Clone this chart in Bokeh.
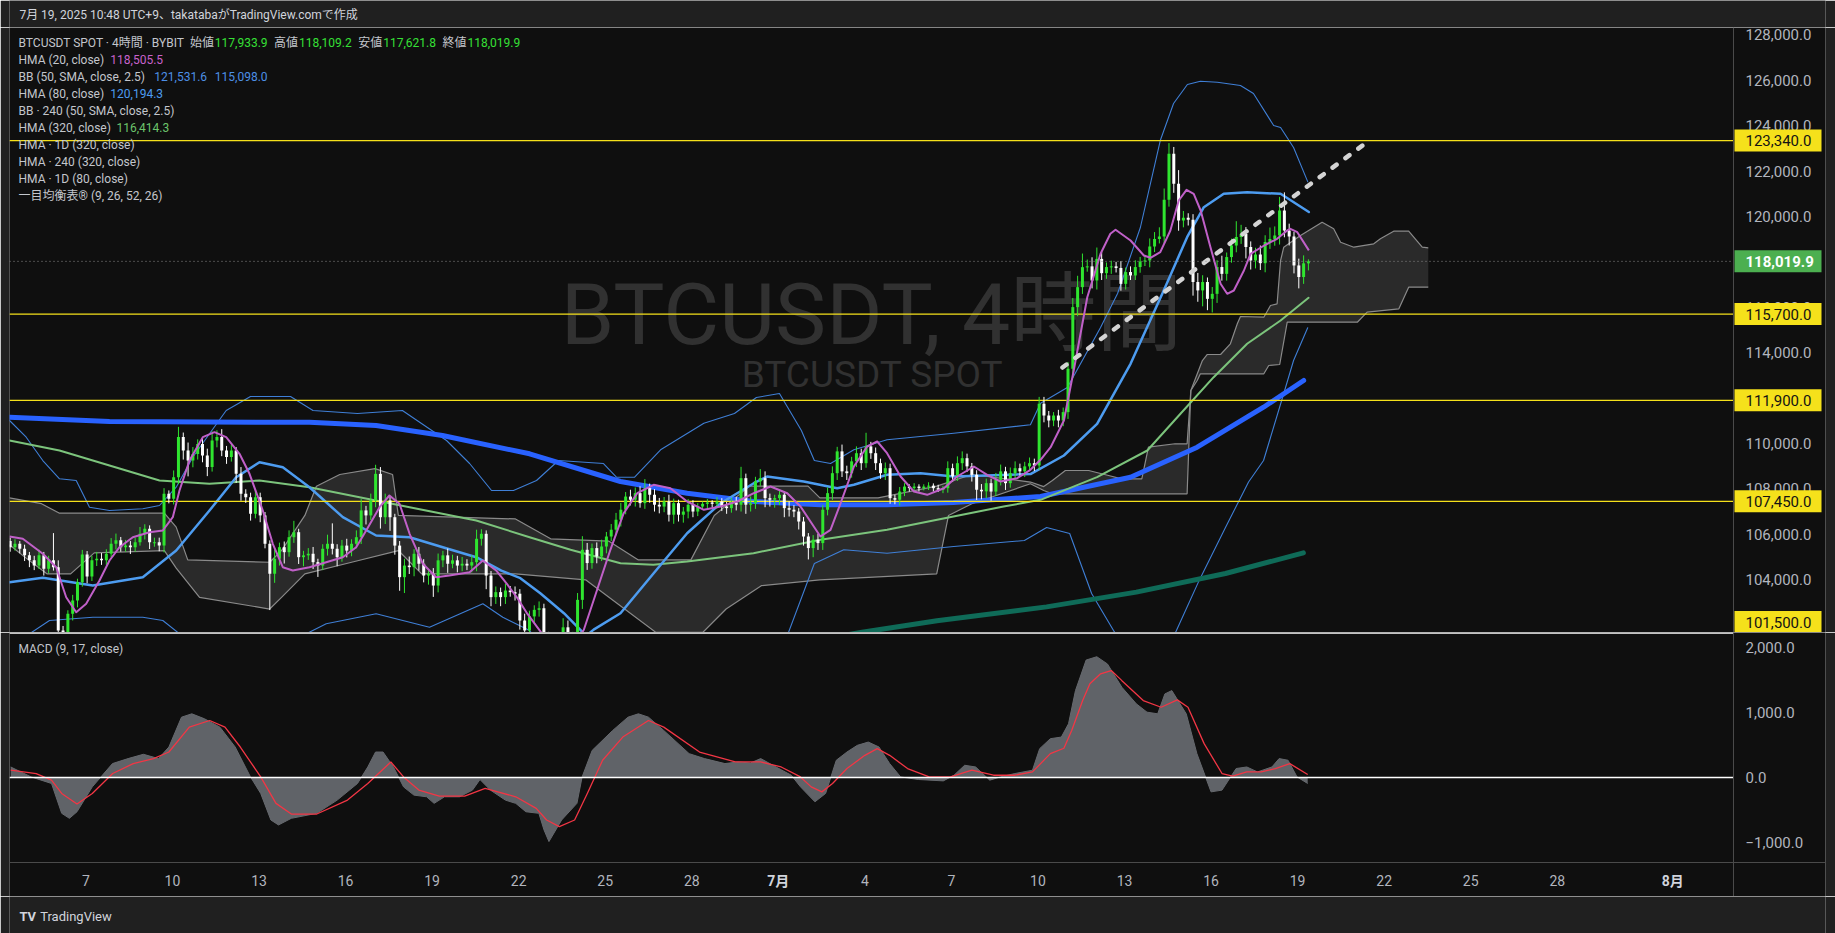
import numpy as np
import pandas as pd
from bokeh.plotting import figure
from bokeh.layouts import column
from bokeh.models import ColumnDataSource, Range1d
from bokeh.core.properties import value
from bokeh.embed import file_html
from bokeh.resources import INLINE

# ======================= DATA =======================
# x values: days since 2025-06-07 00:00 (UTC+9); candles are 4-hour bars
first_bar_day = -2.625            # first bar 2025-06-04 09:00
bar_step_day = 4 / 24
first_open = 105700.0

close = [
    105430, 105580, 105360, 105070, 104850, 104620, 105070, 104480, 104850, 104550,
    101760, 101690, 102500, 103080, 103890, 105110, 104140, 104850, 104920, 104850,
    105140, 105580, 105730, 105430, 105500, 105430, 105650, 106020, 106240, 105650,
    105650, 105500, 107780, 107560, 108510, 110280, 109690, 109250, 109540, 109980,
    109470, 108960, 110130, 110280, 109690, 109400, 109690, 108660, 107780, 107630,
    106900, 107630, 106830, 105580, 104260, 104920, 105430, 105210, 105870, 106090,
    104990, 105070, 105140, 104770, 104620, 105360, 105580, 105360, 104990, 105500,
    105280, 105580, 105870, 107050, 106830, 107490, 108660, 106750, 107490, 106750,
    105500, 104110, 104620, 104550, 105140, 104700, 104180, 104260, 103740, 104850,
    105070, 104700, 104850, 104620, 104700, 104620, 104770, 105800, 106020, 104180,
    103230, 103450, 103230, 103520, 103450, 103380, 102200, 101760, 102380, 102670,
    102740, 101400, 100500, 99200, 100300, 101900, 101100, 101500, 103110, 105315,
    104730, 105390, 105020, 105460, 105900, 106200, 106640, 107080, 107660, 107520,
    107810, 107370, 108030, 107740, 107300, 107220, 107440, 106860, 107370, 106860,
    107000, 107300, 107000, 107220, 107340, 107400, 107340, 107440, 107220, 107150,
    107400, 107300, 108470, 107300, 107370, 108330, 108470, 107590, 107520, 107590,
    107740, 107150, 107080, 107000, 106560, 105900, 105390, 105760, 105610, 107080,
    107810, 108690, 109650, 108770, 108690, 109210, 109570, 109130, 109870, 109570,
    109130, 108690, 108910, 107590, 107520, 107880, 108100, 108030, 108100, 108030,
    108100, 108140, 108030, 107960, 108030, 108910, 108550, 109130, 109350, 108990,
    108620, 107960, 107890, 108250, 107880, 108400, 108770, 108250, 108690, 108910,
    108770, 108990, 109130, 109030, 111750, 111230, 111010, 111230, 111010, 111380,
    113290, 116005, 116885, 117765, 117800, 117180, 118130, 117500, 117770, 117800,
    117730, 117030, 117550, 117400, 117770, 118015, 118060, 118680, 119010, 119120,
    120730, 122760, 121440, 119820, 119940, 119850, 117110, 116740, 117110, 116370,
    116590, 117770, 117470, 118210, 118720, 119090, 119230, 118650, 118060, 118320,
    117940, 118870, 119010, 119160, 120260, 119380, 119120, 117840, 117330, 117933.9,
    118019.9,
]
wick_up = [
    150, 200, 120, 180, 150, 200, 250, 150, 200, 1200,
    300, 200, 150, 250, 150, 200, 150, 200, 300, 250,
    200, 250, 300, 150, 250, 200, 200, 300, 200, 150,
    200, 200, 250, 150, 300, 450, 200, 350, 300, 200,
    250, 300, 400, 300, 350, 200, 250, 150, 300, 200,
    200, 300, 200, 150, 150, 400, 200, 250, 300, 500,
    150, 200, 250, 300, 150, 200, 400, 900, 200, 250,
    300, 200, 300, 500, 200, 300, 400, 300, 300, 200,
    150, 200, 300, 400, 200, 300, 200, 150, 250, 300,
    200, 300, 250, 200, 300, 200, 300, 400, 200, 150,
    200, 250, 200, 300, 200, 250, 200, 300, 250, 200,
    300, 200, 300, 200, 300, 400, 300, 200, 300, 600,
    300, 200, 250, 300, 200, 250, 300, 300, 200, 300,
    250, 300, 400, 200, 250, 300, 200, 300, 200, 150,
    200, 250, 200, 150, 100, 150, 100, 200, 150, 200,
    200, 250, 500, 200, 300, 200, 400, 300, 200, 150,
    200, 150, 300, 200, 150, 200, 150, 200, 250, 200,
    250, 300, 200, 300, 250, 200, 300, 200, 600, 200,
    250, 200, 250, 200, 150, 200, 150, 100, 150, 100,
    100, 150, 100, 150, 100, 300, 200, 300, 300, 200,
    150, 200, 250, 200, 200, 300, 300, 200, 250, 300,
    200, 200, 250, 200, 300, 300, 200, 150, 250, 200,
    300, 400, 500, 600, 300, 400, 500, 300, 200, 250,
    200, 300, 200, 250, 300, 200, 250, 350, 300, 400,
    500, 470, 300, 600, 300, 200, 250, 400, 300, 200,
    300, 300, 500, 200, 300, 700, 400, 300, 250, 300,
    400, 300, 500, 400, 600, 800, 300, 200, 300, 350,
    89.3,
]
wick_dn = [
    200, 150, 200, 250, 300, 200, 150, 300, 200, 150,
    600, 400, 500, 300, 300, 200, 300, 200, 250, 200,
    200, 150, 250, 200, 200, 300, 200, 150, 250, 300,
    200, 250, 300, 200, 250, 300, 400, 700, 300, 250,
    300, 400, 200, 300, 250, 300, 200, 400, 300, 250,
    300, 200, 300, 200, 1600, 400, 300, 500, 200, 250,
    300, 400, 200, 300, 500, 200, 300, 250, 400, 200,
    300, 250, 200, 300, 400, 200, 300, 500, 300, 600,
    400, 600, 700, 300, 400, 300, 300, 400, 500, 300,
    300, 400, 200, 300, 250, 200, 300, 400, 300, 600,
    400, 300, 400, 300, 200, 300, 400, 500, 300, 300,
    300, 800, 700, 600, 500, 400, 500, 400, 300, 400,
    300, 250, 300, 200, 300, 200, 250, 300, 200, 250,
    300, 200, 250, 350, 300, 300, 250, 300, 400, 300,
    350, 300, 250, 200, 150, 200, 150, 200, 200, 250,
    200, 250, 300, 400, 300, 250, 200, 400, 300, 350,
    300, 400, 300, 250, 350, 400, 500, 400, 300, 300,
    250, 300, 300, 250, 300, 200, 250, 300, 200, 250,
    300, 250, 300, 250, 200, 250, 200, 150, 100, 150,
    100, 150, 150, 100, 150, 200, 250, 200, 300, 250,
    300, 450, 350, 300, 400, 200, 250, 300, 200, 250,
    200, 250, 200, 250, 200, 300, 300, 250, 300, 250,
    300, 400, 400, 300, 200, 350, 400, 300, 250, 300,
    200, 300, 250, 200, 200, 250, 200, 300, 250, 200,
    300, 300, 400, 450, 300, 250, 600, 500, 700, 500,
    600, 400, 300, 300, 250, 300, 300, 500, 400, 350,
    300, 400, 300, 300, 400, 300, 400, 350, 500, 300,
    312.1,
]
last_open, last_high, last_low, last_close = 117933.9, 118109.2, 117621.8, 118019.9

# indicator lines: (day, value)
hma20 = [(-2.648, 105901), (-2.187, 105799), (-1.494, 105139), (-1.029, 104548), (-0.683, 103227),
         (-0.336, 102566), (0.010, 102936), (0.471, 103962), (0.818, 104843), (1.165, 105429),
         (1.626, 105870), (2.205, 106090), (2.666, 106165), (3.012, 106751), (3.244, 107927),
         (3.591, 109248), (4.052, 110275), (4.457, 110495), (4.863, 110275), (5.324, 109543),
         (5.671, 108663), (6.132, 107046), (6.478, 105579), (6.825, 104548), (7.172, 104403),
         (7.75, 104548), (8.329, 104769), (8.905, 104989), (9.369, 105429), (9.716, 106165),
         (10.18, 107191), (10.52, 107707), (10.87, 107341), (11.22, 106020), (11.68, 104698),
         (12.14, 104108), (12.6, 104183), (13.3, 104328), (13.76, 104843), (14.22, 104403),
         (14.6, 103800), (14.95, 103200), (15.3, 102500), (15.65, 101900), (16.0, 101300),
         (16.6, 100600), (17.26, 101791), (17.72, 103553), (18.18, 105315), (18.64, 106927),
         (19.11, 107808), (19.68, 108178), (20.26, 108028), (20.84, 107442), (21.42, 107077),
         (22.0, 107222), (22.58, 107442), (23.15, 107808), (23.73, 108103), (24.31, 107808),
         (24.77, 107222), (25.23, 106341), (25.46, 105901), (25.81, 106196), (26.16, 107367),
         (26.62, 108984), (27.08, 109865), (27.43, 110085), (27.77, 109570), (28.24, 108544),
         (28.7, 107883), (29.16, 107737), (29.74, 108028), (30.2, 108544), (30.78, 108984),
         (31.24, 108619), (31.7, 108323), (32.28, 108469), (32.74, 108839), (33.09, 109279),
         (33.44, 109834), (33.9, 111010), (34.24, 113213), (34.71, 116442), (35.17, 118354),
         (35.51, 119235), (35.69, 119411), (36.21, 118939), (36.67, 118279), (36.9, 118177),
         (37.24, 118424), (37.59, 119380), (37.88, 120701), (38.15, 121173), (38.4, 120997),
         (38.64, 120261), (38.98, 118644), (39.33, 117032), (39.56, 116591), (39.79, 116737),
         (40.14, 117618), (40.37, 118354), (40.84, 118719), (41.29, 119014), (41.64, 119380),
         (41.75, 119455), (41.99, 119305), (42.39, 118505.5)]
hma80 = [(-2.648, 103888), (-1.494, 104081), (0.239, 103742), (1.972, 104108), (3.13, 105284),
         (4.284, 107046), (5.21, 108513), (6.017, 109174), (6.825, 108953), (7.75, 108072),
         (8.905, 106751), (10.06, 105945), (11.22, 105870), (12.37, 105429), (13.53, 104989),
         (14.4, 104400), (15.06, 104064), (15.75, 103403), (16.57, 102522), (17.14, 101791),
         (17.32, 101500), (17.6, 101800), (18.53, 102522), (19.68, 104284), (20.84, 106046),
         (22.0, 107367), (23.15, 108248), (23.61, 108544), (24.88, 108323), (26.04, 108028),
         (26.62, 108178), (27.77, 108619), (28.93, 108689), (30.08, 108544), (32.74, 108650),
         (33.9, 109469), (35.05, 110865), (36.21, 113508), (37.36, 116737), (38.17, 119085),
         (38.75, 120406), (39.44, 120997), (40.25, 121067), (41.41, 120997), (42.39, 120194.3)]
hma320 = [(-2.648, 110129), (-0.915, 109689), (0.818, 109028), (2.551, 108367), (4.284, 108222),
          (6.017, 108367), (7.75, 108072), (9.484, 107632), (11.22, 107191), (13.53, 106605),
          (15.38, 105870), (16.8, 105315), (18.53, 104724), (19.67, 104654), (20.84, 104799),
          (23.14, 105165), (25.46, 105755), (27.77, 106196), (30.07, 106782), (31.81, 107222),
          (33.09, 107517), (35.05, 108513), (36.79, 109689), (37.94, 111306), (39.09, 112918),
          (40.25, 114389), (41.41, 115415), (42.38, 116414.3)]
hma1d_80 = [(-2.648, 111156), (0.818, 110970), (4.284, 110940), (7.75, 110936), (10.06, 110790),
            (12.36, 110350), (15.38, 109543), (18.53, 108323), (20.84, 107808), (23.14, 107442),
            (25.46, 107297), (27.77, 107297), (30.07, 107398), (33.09, 107663), (36.21, 108513),
            (38.52, 109834), (40.82, 111596), (42.21, 112772)]
hma1d_320 = [(24.5, 101150), (26.85, 101672), (29.5, 102190), (33.3, 102800), (36.41, 103450),
             (39.5, 104271), (42.2, 105178)]
bb_upper = [(-2.648, 111010), (-2.069, 110275), (-1.494, 109248), (-0.915, 108442), (-0.336, 108367),
            (0.125, 107191), (0.818, 107046), (1.972, 107121), (2.551, 107266), (3.13, 108072),
            (3.705, 109394), (4.284, 110425), (4.863, 111451), (5.705, 112068), (7.092, 112068),
            (7.872, 111451), (9.414, 111319), (10.97, 111451), (12.5, 110129), (13.3, 109116),
            (14.06, 107927), (14.82, 107927), (15.62, 108367), (16.38, 109248), (17.94, 109116),
            (18.39, 108513), (19.02, 108513), (19.92, 109720), (21.42, 110891), (22.48, 111319),
            (23.24, 112023), (24.04, 112200), (24.8, 110570), (25.25, 109248), (25.81, 109116),
            (26.62, 109720), (27.77, 110160), (30.08, 110451), (32.74, 110821), (33.09, 111772),
            (34.02, 112464), (35.17, 115107), (35.76, 116605), (36.55, 119512), (37.24, 123344),
            (37.7, 124974), (38.18, 125811), (38.63, 125957), (39.22, 125913), (40.02, 125767),
            (40.47, 125415), (41.17, 124005), (41.41, 123917), (41.86, 123036), (42.35, 121531.6)]
bb_lower = [(-2.648, 100900), (-1.955, 101615), (-1.262, 102200), (0.239, 102346), (1.972, 102346),
            (2.666, 102200), (3.244, 101615), (4.5, 100600), (6.5, 100700), (7.636, 101615),
            (8.33, 102055), (10.06, 102495), (11.91, 101905), (13.76, 102936), (14.45, 102346),
            (15.38, 101760), (16.5, 99800), (19.0, 98800), (22.0, 99300), (23.6, 100700),
            (24.34, 101629), (25.25, 104711), (26.27, 105315), (27.77, 105165), (30.08, 105460),
            (32.53, 105724), (33.3, 106297), (34.1, 106033), (34.86, 103390), (35.62, 101760),
            (36.5, 100000), (37.2, 100200), (37.8, 101760), (38.6, 104000), (39.5, 106300),
            (40.3, 108300), (40.82, 109248), (41.52, 112200), (41.86, 113653), (42.35, 115098.0)]
cloud_top = [(-2.65, 107602), (-1.54, 107345), (-0.93, 106932), (2.72, 106932), (3.13, 106313),
             (3.53, 104870), (6.37, 104767), (6.78, 105282), (7.59, 106829), (7.99, 108118),
             (8.8, 108633), (10.02, 108891), (10.63, 108633), (10.83, 106829), (14.89, 106674),
             (16.11, 105798), (18.13, 105695), (19.15, 104870), (20.97, 104870), (21.78, 106829),
             (23.0, 108118), (25.03, 108118), (25.44, 107602), (27.46, 107602), (29.49, 108118),
             (30.71, 108633), (32.74, 108300), (33.2, 108100), (33.5, 108368), (33.95, 108808),
             (34.76, 108808), (35.45, 108588), (35.9, 108442), (36.6, 108442), (36.83, 109834),
             (37.75, 109985), (38.17, 109985), (38.3, 112331), (38.7, 113653), (38.87, 113918),
             (39.33, 113918), (39.67, 114389), (39.91, 115270), (40.02, 115592), (40.83, 115561),
             (41.06, 116076), (41.29, 116151), (41.41, 118058), (41.52, 118644), (42.1, 119160),
             (42.85, 119745), (43.25, 119455), (43.49, 118864), (43.95, 118644), (44.64, 118794),
             (44.87, 119014), (45.33, 119349), (45.85, 119349), (46.32, 118644), (46.53, 118618)]
cloud_bot = [(-2.65, 105540), (-2.15, 105025), (-1.34, 104252), (-0.53, 104252), (0.29, 105180),
             (2.72, 105282), (3.13, 104509), (3.94, 103220), (6.37, 102705), (6.78, 103220),
             (7.59, 104252), (9.21, 104767), (10.83, 105282), (11.64, 104252), (14.89, 104252),
             (17.32, 103994), (18.13, 103220), (19.76, 101674), (21.38, 101674), (22.19, 102705),
             (23.41, 103736), (25.44, 103994), (29.49, 104252), (29.9, 106829), (30.71, 107345),
             (32.74, 108222), (33.2, 107928), (33.5, 107781), (38.17, 107781), (38.3, 112331),
             (38.52, 112772), (38.63, 113067), (40.83, 113067), (41.0, 113433), (41.38, 113477),
             (41.64, 115340), (44.07, 115340), (44.41, 115781), (45.51, 115931), (45.85, 116882),
             (46.53, 116882)]
macd = [(-2.607, 162), (-1.899, 9), (-1.192, -92), (-0.839, -551), (-0.572, -628), (-0.308, -527),
        (0.222, -144), (0.922, 214), (1.463, 291), (1.993, 357), (2.516, 291), (2.877, 469),
        (3.314, 928), (3.671, 980), (4.111, 903), (4.645, 775), (5.175, 469), (5.705, 9),
        (6.059, -245), (6.412, -654), (6.676, -730), (7.12, -628), (8.003, -551), (8.71, -348),
        (9.414, -92), (9.771, 162), (10.04, 392), (10.3, 392), (10.66, 162), (11.01, -144),
        (11.37, -271), (11.81, -297), (12.07, -398), (12.43, -297), (12.95, -297), (13.4, -194),
        (13.66, -31), (14.02, -194), (14.54, -348), (14.9, -398), (15.25, -527), (15.7, -551),
        (15.88, -807), (16.05, -986), (16.49, -654), (17.02, -398), (17.2, 9), (17.55, 418),
        (18.26, 724), (18.79, 928), (19.15, 980), (19.5, 928), (20.03, 724), (20.91, 367),
        (21.44, 291), (22.15, 214), (22.59, 239), (23.04, 224), (23.39, 291), (23.92, 162),
        (24.45, 35), (24.77, -144), (25.27, -374), (25.64, -245), (26.01, 265), (26.38, 392),
        (26.74, 495), (27.12, 545), (27.49, 469), (27.86, 214), (28.24, 9), (28.86, -31),
        (29.72, -52), (30.09, 35), (30.46, 188), (30.84, 162), (31.33, -41), (31.7, 9),
        (32.2, 61), (32.81, 112), (33.06, 444), (33.43, 597), (33.81, 622), (34.06, 827),
        (34.3, 1337), (34.67, 1807), (35.04, 1858), (35.41, 1746), (35.91, 1388), (36.41, 1133),
        (36.78, 1005), (37.15, 980), (37.4, 1286), (37.64, 1337), (38.14, 980), (38.51, 367),
        (39.0, -221), (39.38, -194), (39.87, 138), (40.24, 162), (40.61, 86), (41.11, 162),
        (41.36, 291), (41.67, 265), (41.98, 9), (42.35, -92)]
signal = [(-2.607, 112), (-1.723, 61), (-1.192, -41), (-0.839, -245), (-0.308, -409), (0.222, -245),
          (0.929, 61), (1.64, 214), (2.343, 291), (2.877, 392), (3.584, 775), (4.291, 877),
          (4.821, 775), (5.352, 469), (6.059, 9), (6.589, -398), (7.12, -562), (8.003, -562),
          (9.068, -348), (9.771, -92), (10.57, 239), (11.01, 9), (11.54, -194), (12.25, -286),
          (13.13, -286), (13.84, -168), (14.9, -297), (15.61, -475), (15.97, -654), (16.41, -756),
          (16.94, -654), (17.38, -245), (17.91, 265), (18.61, 622), (19.5, 877), (20.03, 775),
          (21.27, 392), (22.51, 239), (23.39, 239), (24.1, 162), (24.77, 9), (25.14, -144),
          (25.51, -221), (25.88, -92), (26.38, 138), (27.0, 341), (27.43, 444), (27.86, 341),
          (28.48, 138), (29.23, 9), (29.97, 9), (30.71, 112), (31.46, 35), (32.2, 35),
          (32.81, 86), (33.43, 367), (33.9, 450), (34.17, 723), (34.55, 1185), (34.8, 1441),
          (35.17, 1595), (35.54, 1646), (35.91, 1490), (36.65, 1184), (37.27, 1081), (37.83, 1194),
          (38.2, 1081), (38.76, 521), (39.38, 61), (39.75, 20), (40.24, 86), (40.74, 86),
          (41.23, 138), (41.73, 214), (42.35, 46)]
trendline = [(33.85, 113345), (44.25, 123124)]
levels = [123340.0, 115700.0, 111900.0, 107450.0, 101500.0]
price_ticks = [104000, 106000, 108000, 110000, 112000, 114000, 116000, 118000, 120000,
               122000, 124000, 126000, 128000]
macd_ticks = [2000, 1000, 0, -1000]
time_tick_dates = ["2025-06-07", "2025-06-10", "2025-06-13", "2025-06-16", "2025-06-19",
                   "2025-06-22", "2025-06-25", "2025-06-28", "2025-07-01", "2025-07-04",
                   "2025-07-07", "2025-07-10", "2025-07-13", "2025-07-16", "2025-07-19",
                   "2025-07-22", "2025-07-25", "2025-07-28", "2025-08-01"]
time_tick_labels = ["7", "10", "13", "16", "19", "22", "25", "28", "7月", "4", "7", "10", "13",
                    "16", "19", "22", "25", "28", "8月"]
header_text = "7月 19, 2025 10:48 UTC+9、takatabaがTradingView.comで作成"

# ======================= LAYOUT CALIBRATION (page pixels) =======================
X0_PX, DAY_PX = 85.4, 28.85
def D(px): return (px - X0_PX) / DAY_PX
def P(py): return 123340.0 - (py - 140.1) * 44.05
def M(py): return (777.0 - py) / 65.0 * 1000.0

FONT = "Roboto, Noto Sans CJK JP, sans-serif"
BG, FRAME = "#0f0f0f", "#202020"
UP, DOWN = "#2fe52f", "#ffffff"
AX_TXT = "#b2b5be"
YEL = "#f5e11b"
W = 1835

def mkfig(h, xr, yr, bl=9, br=10, bg=BG):
    f = figure(width=W, height=h, x_range=xr, y_range=yr, output_backend="svg",
               toolbar_location=None, x_axis_location=None, y_axis_location=None,
               min_border_left=bl, min_border_right=br, min_border_top=0, min_border_bottom=0,
               background_fill_color=bg, border_fill_color=FRAME, outline_line_color=None)
    f.xgrid.visible = False
    f.ygrid.visible = False
    return f

def txt(f, x, y, s, color, size="12px", align="left", bold=False, baseline="middle"):
    f.text(x=[x], y=[y], text=[s], text_color=color, text_font_size=size, text_align=align,
           text_baseline=baseline, text_font=value(FONT),
           text_font_style="bold" if bold else "normal")

def xy(pts):
    return [p[0] for p in pts], [p[1] for p in pts]

xr = Range1d(D(9), D(1825))

# ---------------- header ----------------
head = mkfig(27, Range1d(0, 1835), Range1d(27, 0), bl=0, br=0, bg=FRAME)
txt(head, 10, 14.5, header_text, "#d1d4dc", size="12px")

# ---------------- main pane ----------------
main = mkfig(605, xr, Range1d(P(632), P(27)))

# watermark
txt(main, D(871), P(314), "BTCUSDT, 4時間", "#313131", size="86px", align="center")
txt(main, D(872), P(374), "BTCUSDT SPOT", "#313131", size="37px", align="center")

# ichimoku cloud
tx, ty = xy(cloud_top)
bx, by = xy(cloud_bot)
main.patch(tx + bx[::-1], ty + by[::-1], fill_color="#2a2a2a", line_color=None)
main.line(tx, ty, line_color="#8a8a8a", line_width=1.2)
main.line(bx, by, line_color="#8a8a8a", line_width=1.2)

# bands and moving averages
for pts, col, wd in [(bb_upper, "#3f7fd6", 1.1), (bb_lower, "#3f7fd6", 1.1),
                     (hma1d_320, "#0f6b58", 5), (hma1d_80, "#2962ff", 5),
                     (hma320, "#7cc47c", 2), (hma80, "#4d9cf0", 2.5)]:
    x_, y_ = xy(pts)
    main.line(x_, y_, line_color=col, line_width=wd, line_join="round", line_cap="round")

# horizontal levels
for lv in levels:
    main.segment(x0=[D(9)], y0=[lv], x1=[D(1733)], y1=[lv], line_color=YEL, line_width=1.2)

# candles
n = len(close)
day = first_bar_day + np.arange(n) * bar_step_day
c = np.array(close, dtype=float)
o = np.concatenate([[first_open], c[:-1]])
o[-1] = last_open
hi = np.maximum(o, c) + np.array(wick_up, dtype=float)
lo = np.minimum(o, c) - np.array(wick_dn, dtype=float)
hi[-1], lo[-1] = last_high, last_low
colors = [UP if cc >= oo else DOWN for oo, cc in zip(o, c)]
top = np.maximum(o, c)
bot = np.minimum(o, c)
bot = np.where(top - bot < 45, top - 45, bot)
src = ColumnDataSource(dict(x=day, o=o, c=c, hi=hi, lo=lo, top=top, bot=bot, col=colors))
main.segment(x0="x", y0="lo", x1="x", y1="hi", line_color="col", line_width=1, source=src)
main.vbar(x="x", width=0.104, top="top", bottom="bot", fill_color="col", line_color=None, source=src)

# HMA 20 on top
x_, y_ = xy(hma20)
main.line(x_, y_, line_color="#c060c8", line_width=2, line_join="round")

# trendline
x_, y_ = xy(trendline)
main.line(x_, y_, line_color="#d4d4d4", line_width=4.5, line_dash="5 11", line_cap="round")

# last price dotted line
main.segment(x0=[D(9)], y0=[last_close], x1=[D(1733)], y1=[last_close],
             line_color="#8c8c8c", line_width=1, line_dash="1 3")

# price axis
main.segment(x0=[D(1733)], y0=[P(632)], x1=[D(1733)], y1=[P(27)], line_color="#4a4a4a", line_width=1)
for t in price_ticks:
    txt(main, D(1745), t, f"{t:,.1f}", AX_TXT, size="15px")
BOXH = 11 * 44.05
for lv in levels:
    yc = max(lv, P(621.5))
    main.quad(left=[D(1734)], right=[D(1821)], top=[yc + BOXH], bottom=[yc - BOXH],
              fill_color=YEL, line_color=None)
    txt(main, D(1745), yc, f"{lv:,.1f}", "#131313", size="15px")
main.quad(left=[D(1734)], right=[D(1821)], top=[last_close + BOXH], bottom=[last_close - BOXH],
          fill_color="#4caf50", line_color=None)
txt(main, D(1745), last_close, f"{last_close:,.1f}", "#ffffff", size="15px", bold=True)

# legend
LG = "#c3c6cc"
txt(main, D(18), P(42.3), "BTCUSDT SPOT · 4時間 · BYBIT", LG)
for lab, val, xl, xv in [("始値", last_open, 189.4, 214.3), ("高値", last_high, 273.6, 298.5),
                         ("安値", last_low, 357.8, 382.7), ("終値", last_close, 442, 466.9)]:
    txt(main, D(xl), P(42.3), lab, LG)
    txt(main, D(xv), P(42.3), f"{val:,.1f}", "#36e036")
legend_rows = [("HMA (20, close)", [(f"{hma20[-1][1]:,.1f}", "#c862cc", 109.8)]),
               ("BB (50, SMA, close, 2.5)", [(f"{bb_upper[-1][1]:,.1f}", "#4d8fe6", 153.8),
                                             (f"{bb_lower[-1][1]:,.1f}", "#4d8fe6", 214.3)]),
               ("HMA (80, close)", [(f"{hma80[-1][1]:,.1f}", "#4d9cf0", 109.8)]),
               ("BB · 240 (50, SMA, close, 2.5)", []),
               ("HMA (320, close)", [(f"{hma320[-1][1]:,.1f}", "#6cc46c", 116.0)]),
               ("HMA · 1D (320, close)", []),
               ("HMA · 240 (320, close)", []),
               ("HMA · 1D (80, close)", []),
               ("一目均衡表® (9, 26, 52, 26)", [])]
for k, (lab, vals) in enumerate(legend_rows):
    yy = 59.0 + 17.0 * k
    txt(main, D(18), P(yy), lab, LG)
    for s, col, xv in vals:
        txt(main, D(xv), P(yy), s, col)

# ---------------- MACD pane ----------------
mac = mkfig(264, xr, Range1d(M(896), M(632)))
mx, mv = xy(macd)
mac.varea(x=mx, y1=[0.0] * len(mx), y2=mv, fill_color="#606368")
mac.line(mx, mv, line_color="#66696e", line_width=1)
sx, sv = xy(signal)
mac.line(sx, sv, line_color="#f23645", line_width=1.3)
mac.segment(x0=[D(9)], y0=[0], x1=[D(1733)], y1=[0], line_color="#ffffff", line_width=1.5)
mac.segment(x0=[D(9)], y0=[M(632.6)], x1=[D(1733)], y1=[M(632.6)], line_color="#ffffff", line_width=1.5)
mac.segment(x0=[D(1733)], y0=[M(896)], x1=[D(1733)], y1=[M(632)], line_color="#4a4a4a", line_width=1)
mac.segment(x0=[D(9)], y0=[M(862)], x1=[D(1825)], y1=[M(862)], line_color="#4a4a4a", line_width=1)
txt(mac, D(18), M(648.5), "MACD (9, 17, close)", LG)
for t in macd_ticks:
    s = f"{t:,.1f}".replace("-", "\u2212")
    txt(mac, D(1745), t, s, AX_TXT, size="15px")
tick_days = (pd.to_datetime(time_tick_dates) - pd.Timestamp("2025-06-07")).days
for dd, lab in zip(tick_days, time_tick_labels):
    month = lab.endswith("月")
    txt(mac, float(dd), M(880), lab, "#d1d4dc" if month else AX_TXT, size="14px",
        align="center", bold=month)

# ---------------- footer ----------------
foot = mkfig(37, Range1d(0, 1835), Range1d(933, 896), bl=0, br=0, bg=FRAME)
txt(foot, 10, 916, "TV", "#d1d4dc", size="13px", bold=True)
txt(foot, 31, 916, "TradingView", "#d1d4dc", size="13px")

layout = column(head, main, mac, foot, spacing=0)
open("out.html", "w").write(file_html(layout, INLINE, title="BTCUSDT 4h"))
